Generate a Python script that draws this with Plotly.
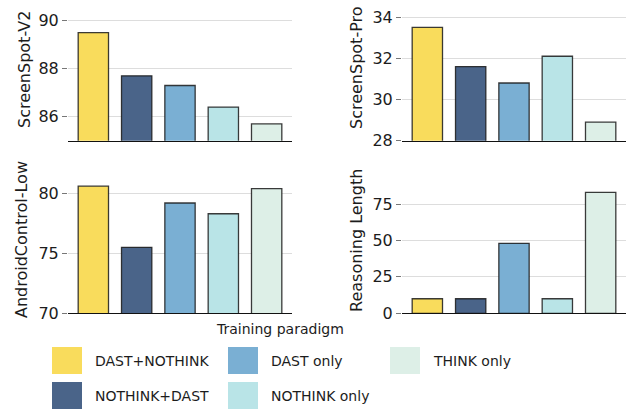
import plotly.graph_objects as go

# Training paradigms (bar order) and their colours
paradigms = ["DAST+NOTHINK", "NOTHINK+DAST", "DAST only", "NOTHINK only", "THINK only"]
colors = ["#F9DC5C", "#4A6489", "#7AAFD3", "#B9E4E7", "#DDEFE7"]

# Metric values per paradigm
screenspot_v2 = [89.5, 87.7, 87.3, 86.4, 85.7]
screenspot_pro = [33.5, 31.6, 30.8, 32.1, 28.9]
androidcontrol_low = [80.6, 75.5, 79.2, 78.3, 80.4]
reasoning_length = [10, 10, 48, 10, 83]

W, H = 630, 410
FONT = "DejaVu Sans"
TEXT = "#1c1c1c"


def px_x(x):
    return x / W


def px_y(y):
    return 1 - y / H


# (values, axis suffix, y title, y range, tick values, x px span, y px span, title px centre)
panels = [
    (screenspot_v2, "", "ScreenSpot-V2", [85, 90.86], [86, 88, 90], (68, 292), (0, 140.7), (24, 70)),
    (screenspot_pro, "2", "ScreenSpot-Pro", [28, 34.83], [28, 30, 32, 34], (402, 626), (0, 140.7), (356, 68)),
    (androidcontrol_low, "3", "AndroidControl-Low", [70, 82.2], [70, 75, 80], (68, 292), (167, 313.3), (22, 240)),
    (reasoning_length, "4", "Reasoning Length", [0, 100.4], [0, 25, 50, 75], (402, 626), (167, 313.3), (356, 241)),
]

fig = go.Figure()
annotations = []
layout_axes = {}

for values, sfx, ytitle, yrange, tickvals, xspan, yspan, tpos in panels:
    fig.add_trace(go.Bar(
        x=list(range(len(paradigms))),
        y=values,
        width=0.7,
        marker=dict(color=colors, line=dict(color="rgba(25,25,25,0.85)", width=1.3)),
        xaxis="x" + sfx,
        yaxis="y" + sfx,
        showlegend=False,
        hovertext=paradigms,
    ))
    layout_axes["xaxis" + sfx] = dict(
        domain=[px_x(xspan[0]), px_x(xspan[1])],
        range=[-0.585, 4.585],
        anchor="y" + sfx,
        automargin=False,
        showticklabels=False,
        ticks="",
        showgrid=False,
        zeroline=False,
        showline=True,
        linecolor="#111111",
        linewidth=1.3,
    )
    layout_axes["yaxis" + sfx] = dict(
        domain=[px_y(yspan[1]), px_y(yspan[0])],
        range=yrange,
        anchor="x" + sfx,
        automargin=False,
        tickvals=tickvals,
        ticks="outside",
        ticklen=5,
        tickwidth=1,
        tickcolor="#777777",
        tickfont=dict(family=FONT, size=16, color=TEXT),
        showgrid=True,
        gridcolor="#dddddd",
        gridwidth=1,
        zeroline=False,
        showline=False,
    )
    annotations.append(dict(
        x=px_x(tpos[0]), y=px_y(tpos[1]), xref="paper", yref="paper",
        text=ytitle, textangle=-90, showarrow=False,
        font=dict(family=FONT, size=16, color=TEXT),
        xanchor="center", yanchor="middle",
    ))

# Legend: title plus colour patches laid out column-major under the panels
annotations.append(dict(
    x=px_x(280), y=px_y(329), xref="paper", yref="paper",
    text="Training paradigm", showarrow=False,
    font=dict(family=FONT, size=14, color=TEXT),
    xanchor="center", yanchor="middle",
))
shapes = []
col_x = [52, 228, 390]
row_y = [347, 382]
for i, (name, c) in enumerate(zip(paradigms, colors)):
    col, row = divmod(i, 2)
    x0, y0 = col_x[col], row_y[row]
    shapes.append(dict(
        type="rect", xref="paper", yref="paper",
        x0=px_x(x0), x1=px_x(x0 + 30), y0=px_y(y0 + 27), y1=px_y(y0),
        fillcolor=c, line=dict(width=0),
    ))
    annotations.append(dict(
        x=px_x(x0 + 41), y=px_y(y0 + 13.5), xref="paper", yref="paper",
        text=name, showarrow=False,
        font=dict(family=FONT, size=14, color=TEXT),
        xanchor="left", yanchor="middle",
    ))

fig.update_layout(
    width=W, height=H,
    margin=dict(l=0, r=0, t=0, b=0),
    paper_bgcolor="white",
    plot_bgcolor="white",
    font=dict(family=FONT),
    annotations=annotations,
    shapes=shapes,
    **layout_axes,
)

fig.write_html("out.html")
